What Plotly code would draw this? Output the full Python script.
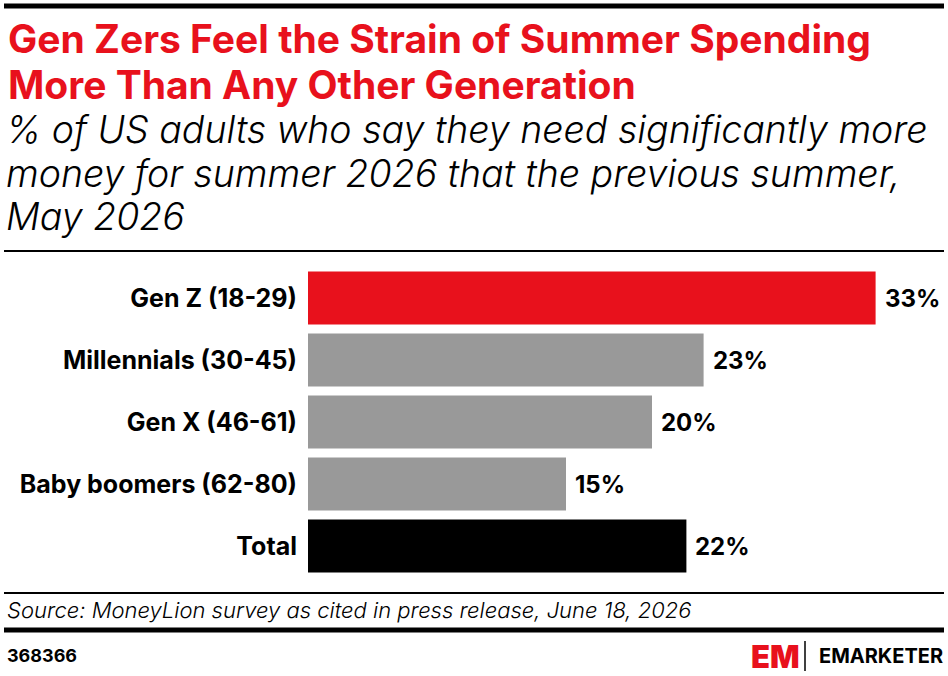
import plotly.graph_objects as go

categories = ["Gen Z (18-29)", "Millennials (30-45)", "Gen X (46-61)", "Baby boomers (62-80)", "Total"]
values = [33, 23, 20, 15, 22]
bar_colors = ["#E8111C", "#999999", "#999999", "#999999", "#000000"]
value_labels = [f"{v}%" for v in values]

title_lines = ["Gen Zers Feel the Strain of Summer Spending", "More Than Any Other Generation"]
subtitle_lines = ["% of US adults who say they need significantly more",
                  "money for summer 2026 that the previous summer,",
                  "May 2026"]
source_text = "Source: MoneyLion survey as cited in press release, June 18, 2026"
chart_id = "368366"

W, H = 948, 676
PL, PR, PT, PB = 308, 0, 267, 99
ph = H - PT - PB
pw = W - PL - PR

def py(y):
    return (H - PB - y) / ph

def px(x):
    return (x - PL) / pw

FONT = "Inter"

fig = go.Figure(go.Bar(
    y=categories, x=values, orientation="h",
    marker=dict(color=bar_colors, line=dict(width=0)),
    hoverinfo="skip",
))

ann = []
for c, v, lab in zip(categories, values, value_labels):
    ann.append(dict(text=lab, x=v, y=c, xref="x", yref="y", xanchor="left", yanchor="middle",
                    xshift=7, showarrow=False,
                    font=dict(family=FONT, size=24, color="#000000", weight="bold")))

title_y = [39, 85]
for t, y in zip(title_lines, title_y):
    ann.append(dict(text=t, x=px(6), y=py(y), xref="paper", yref="paper", xanchor="left", yanchor="middle",
                    showarrow=False, font=dict(family=FONT, size=39, color="#E8111C", weight="bold")))
sub_y = [129, 173, 217]
for t, y in zip(subtitle_lines, sub_y):
    ann.append(dict(text=t, x=px(4), y=py(y), xref="paper", yref="paper", xanchor="left", yanchor="middle",
                    showarrow=False, font=dict(family=FONT, size=37.5, color="#000000", style="italic", weight=300)))
ann.append(dict(text=source_text, x=px(5), y=py(610), xref="paper", yref="paper", xanchor="left", yanchor="middle",
                showarrow=False, font=dict(family=FONT, size=22, color="#000000", style="italic", weight=300)))
ann.append(dict(text=chart_id, x=px(5), y=py(655), xref="paper", yref="paper", xanchor="left", yanchor="middle",
                showarrow=False, font=dict(family=FONT, size=18, color="#000000", weight="bold")))
ann.append(dict(text="EM", x=px(749), y=py(656), xref="paper", yref="paper", xanchor="left", yanchor="middle",
                showarrow=False, font=dict(family=FONT, size=31, color="#E8111C", weight=900)))
ann.append(dict(text="EMARKETER", x=px(945), y=py(656), xref="paper", yref="paper", xanchor="right", yanchor="middle",
                showarrow=False, font=dict(family=FONT, size=20, color="#000000", weight="bold")))

shapes = [
    dict(type="line", xref="paper", yref="paper", x0=px(4), x1=px(944), y0=py(6), y1=py(6),
         line=dict(color="#000000", width=5)),
    dict(type="line", xref="paper", yref="paper", x0=px(4), x1=px(944), y0=py(251), y1=py(251),
         line=dict(color="#000000", width=2)),
    dict(type="line", xref="paper", yref="paper", x0=px(4), x1=px(944), y0=py(593), y1=py(593),
         line=dict(color="#000000", width=2)),
    dict(type="line", xref="paper", yref="paper", x0=px(4), x1=px(944), y0=py(630), y1=py(630),
         line=dict(color="#000000", width=5)),
    dict(type="line", xref="paper", yref="paper", x0=px(805), x1=px(805), y0=py(641), y1=py(671),
         line=dict(color="#000000", width=1.5)),
]

fig.update_layout(
    width=W, height=H,
    margin=dict(l=PL, r=PR, t=PT, b=PB),
    paper_bgcolor="#FFFFFF", plot_bgcolor="#FFFFFF",
    showlegend=False,
    bargap=0.145,
    xaxis=dict(range=[0, pw / 17.2], visible=False, fixedrange=True),
    yaxis=dict(autorange="reversed", showgrid=False, zeroline=False, showline=False,
               ticks="", ticklabelstandoff=10,
               tickfont=dict(family=FONT, size=25, color="#000000", weight="bold"), fixedrange=True),
    annotations=ann, shapes=shapes,
)

fig.write_html("out.html")
